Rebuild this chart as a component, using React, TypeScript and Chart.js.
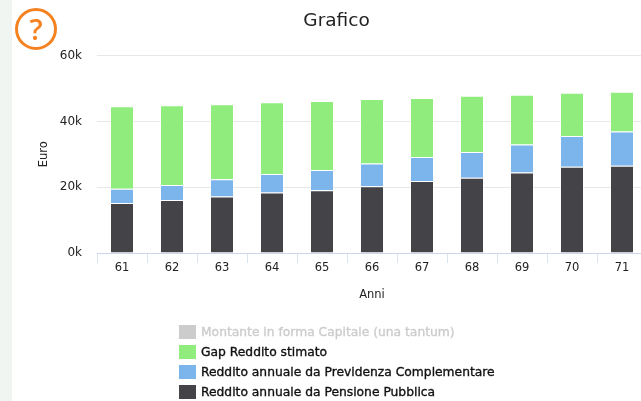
import React, { useEffect, useRef } from "react";
import { Chart, registerables } from "chart.js";

Chart.register(...registerables);

const anni = ["61", "62", "63", "64", "65", "66", "67", "68", "69", "70", "71"];
const pensione = [15.2, 16.1, 17.2, 18.4, 19.1, 20.3, 21.9, 22.9, 24.5, 26.2, 26.5];
const previdenza = [4.3, 4.6, 5.2, 5.6, 6.1, 6.9, 7.3, 7.8, 8.5, 9.4, 10.4];
const gap = [25.1, 24.2, 22.8, 21.8, 21.0, 19.6, 17.9, 17.1, 15.1, 13.1, 12.1];
const montante = [0, 0, 0, 0, 0, 0, 0, 0, 0, 0, 0];
const yTicks = [0, 20, 40, 60];

const legendItems = [
  { label: "Montante in forma Capitale (una tantum)", color: "#cccccc", text: "#cccccc" },
  { label: "Gap Reddito stimato", color: "#90ed7d", text: "#111111" },
  { label: "Reddito annuale da Previdenza Complementare", color: "#7cb5ec", text: "#111111" },
  { label: "Reddito annuale da Pensione Pubblica", color: "#434348", text: "#111111" },
];

const FONT = '"DejaVu Sans", sans-serif';

export default function App() {
  const ref = useRef<HTMLCanvasElement | null>(null);

  useEffect(() => {
    if (!ref.current) return;
    const chart = new Chart(ref.current, {
      type: "bar",
      data: {
        labels: anni,
        datasets: [
          { label: legendItems[3].label, data: pensione, backgroundColor: "#434348", borderColor: "rgba(255,255,255,0.35)" },
          { label: legendItems[2].label, data: previdenza, backgroundColor: "#7cb5ec", borderColor: "rgba(255,255,255,0.35)" },
          { label: legendItems[1].label, data: gap, backgroundColor: "#90ed7d", borderColor: "rgba(255,255,255,0.35)" },
          { label: legendItems[0].label, data: montante, backgroundColor: "#cccccc", hidden: true },
        ].map((d) => ({ ...d, borderWidth: 1, categoryPercentage: 1, barPercentage: 0.48 })),
      },
      options: {
        responsive: false,
        animation: false,
        layout: { padding: { top: 0, bottom: 99, left: 14, right: 15 } },
        plugins: {
          legend: { display: false },
          tooltip: { enabled: false },
          title: {
            display: true,
            text: "Grafico",
            color: "#222222",
            font: { family: FONT, size: 18.5, weight: "normal" },
            padding: { top: 10, bottom: 23.4 },
          },
        },
        scales: {
          x: {
            stacked: true,
            grid: { drawOnChartArea: false, color: "#dbe3ef", tickLength: 10 },
            border: { color: "#ccd6eb" },
            ticks: { color: "#222222", font: { family: FONT, size: 11.5 }, padding: -2, maxRotation: 0 },
            title: { display: true, text: "Anni", color: "#222222", font: { family: FONT, size: 11.5 }, padding: { top: 8, bottom: 0 } },
            afterFit: (s: any) => { s.height = 49; },
          },
          y: {
            stacked: true,
            min: 0,
            max: 60,
            afterBuildTicks: (s: any) => { s.ticks = yTicks.map((value) => ({ value })); },
            grid: { color: "#e8e8e8", drawTicks: false },
            border: { display: false },
            ticks: { color: "#222222", font: { family: FONT, size: 12 }, padding: 15, callback: (v: any) => `${v}k` },
            title: { display: true, text: "Euro", color: "#222222", font: { family: FONT, size: 11.5 }, padding: { top: 11, bottom: 0 } },
            afterFit: (s: any) => { s.width = 71; },
          },
        },
      },
    });
    return () => chart.destroy();
  }, []);

  return (
    <div style={{ position: "fixed", inset: 0, overflow: "hidden", background: "#fff", filter: "blur(0.35px)" }}>
      <div style={{ position: "absolute", left: 0, top: 0, width: 12, height: 401, background: "#f1f5f2" }} />
      <canvas ref={ref} width={650} height={401} style={{ position: "absolute", left: 12, top: 0 }} />
      <div style={{ position: "absolute", left: 15, top: 8, width: 36, height: 36, border: "3px solid #f58220", borderRadius: "50%", boxSizing: "content-box", color: "#f58220", font: `600 29px/36px "Open Sans", sans-serif`, textAlign: "center" }}>?</div>
      <div style={{ position: "absolute", left: 179, top: 322 }}>
        {legendItems.map((it) => (
          <div key={it.label} style={{ display: "flex", alignItems: "center", height: 20, whiteSpace: "nowrap" }}>
            <span style={{ width: 17, height: 14, background: it.color, marginRight: 5 }} />
            <span style={{ color: it.text, font: `400 12.3px ${FONT}`, WebkitTextStroke: `0.35px ${it.text}` }}>{it.label}</span>
          </div>
        ))}
      </div>
    </div>
  );
}
